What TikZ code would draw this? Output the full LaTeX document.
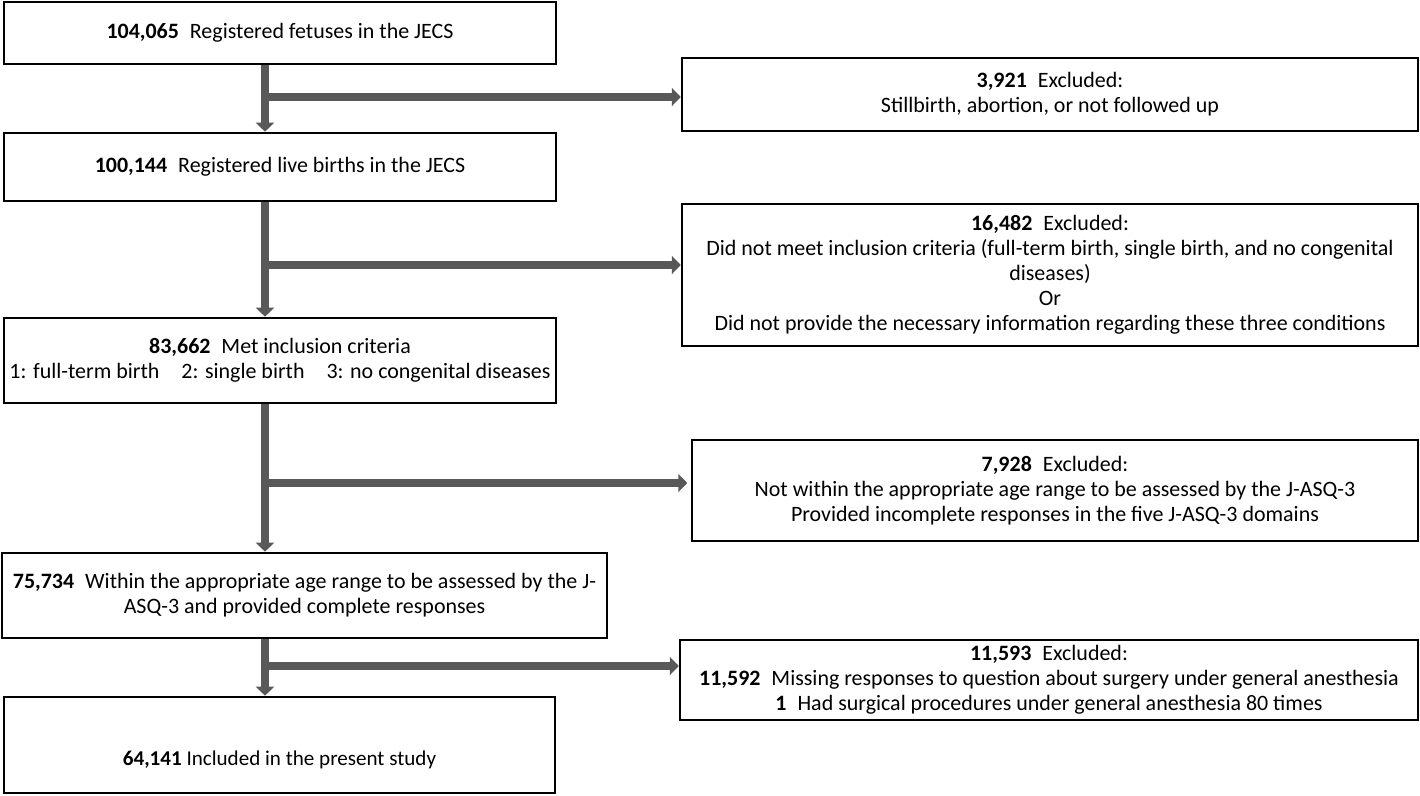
\documentclass[tikz,border=0pt]{standalone}
\usepackage{fontspec}
\setmainfont{Carlito}
\usetikzlibrary{arrows.meta}
\definecolor{flowgray}{HTML}{595959}

\begin{document}
\begin{tikzpicture}[line join=miter,x=0.02cm,y=-0.02cm,
    stage/.style={draw, line width=1.5pt, align=center, inner sep=0pt, font=\fontsize{12.5}{14.2}\selectfont},
    flow/.style={draw=flowgray, line width=4.6pt},
    tip/.style={-{Triangle[width=0.36cm,length=0.18cm]}, fill=flowgray}]
    \useasboundingbox (0,0) rectangle (1420,795);

    % main stages
    \node[stage, minimum width=11.04cm, minimum height=1.24cm] (reg) at (280,33) {\textbf{104,065}\enspace Registered fetuses in the JECS};
    \node[stage, minimum width=11.04cm, minimum height=1.36cm] (live) at (280,167) {\textbf{100,144}\enspace Registered live births in the JECS};
    \node[stage, minimum width=11.04cm, minimum height=1.70cm] (crit) at (280,360.5) {\textbf{83,662}\enspace Met inclusion criteria\\1: full-term birth\quad 2: single birth\quad 3: no congenital diseases};
    \node[stage, minimum width=12.10cm, minimum height=1.70cm] (asq) at (304.5,595.5) {\textbf{75,734}\enspace Within the appropriate age range to be assessed by the J-\\ASQ-3 and provided complete responses};
    \node[stage, minimum width=11.02cm, minimum height=1.92cm, font=\fontsize{12}{14.2}\selectfont] (final) at (279.5,745) {\raisebox{-0.4cm}[0pt][0pt]{\textbf{64,141} Included in the present study}};

    % exclusions
    \node[stage, minimum width=14.72cm, minimum height=1.46cm] (ex1) at (1050,94.5) {\textbf{3,921}\enspace Excluded:\\Stillbirth, abortion, or not followed up};
    \node[stage, minimum width=14.72cm, minimum height=2.84cm] (ex2) at (1050,275) {\textbf{16,482}\enspace Excluded:\\Did not meet inclusion criteria (full-term birth, single birth, and no congenital\\diseases)\\Or\\Did not provide the necessary information regarding these three conditions};
    \node[stage, minimum width=14.52cm, minimum height=2.02cm] (ex3) at (1055,490.5) {\textbf{7,928}\enspace Excluded:\\Not within the appropriate age range to be assessed by the J-ASQ-3\\Provided incomplete responses in the five J-ASQ-3 domains};
    \node[stage, minimum width=14.76cm, minimum height=1.60cm] (ex4) at (1049,680) {\textbf{11,593}\enspace Excluded:\\\textbf{11,592}\enspace Missing responses to question about surgery under general anesthesia\\\textbf{1}\enspace Had surgical procedures under general anesthesia 80 times};

    % branch points on the trunk
    \coordinate (j1) at (265,97);
    \coordinate (j2) at (265,265);
    \coordinate (j3) at (265,483);
    \coordinate (j4) at (265,666);

    \draw[flow, tip] (reg.south -| j1) -- (live.north -| j1);
    \draw[flow, tip] (live.south -| j2) -- (crit.north -| j2);
    \draw[flow, tip] (crit.south -| j3) -- (asq.north -| j3);
    \draw[flow, tip] (asq.south -| j4) -- (final.north -| j4);

    \draw[flow, tip] (j1) -- (j1 -| ex1.west);
    \draw[flow, tip] (j2) -- (j2 -| ex2.west);
    \draw[flow, tip] (j3) -- ([xshift=-2pt] j3 -| ex3.west);
    \draw[flow, tip] (j4) -- (j4 -| ex4.west);
\end{tikzpicture}
\end{document}
